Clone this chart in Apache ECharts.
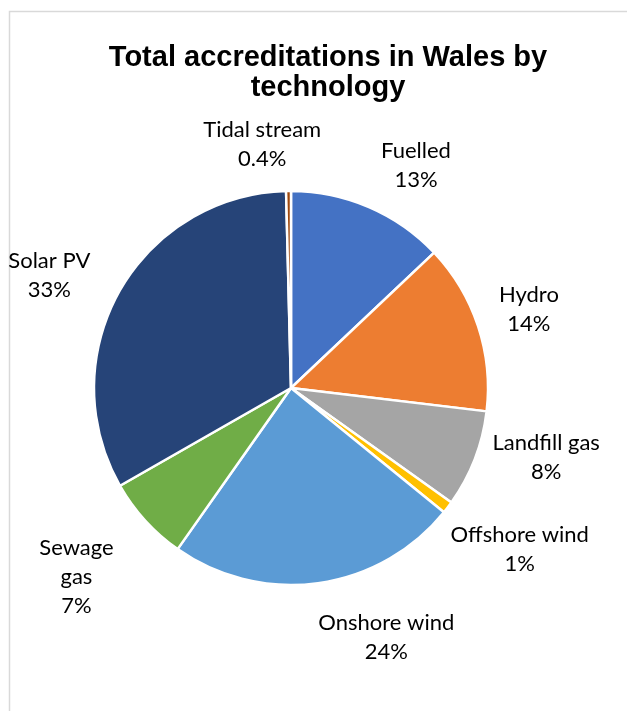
<!DOCTYPE html>
<html>
<head>
<meta charset="utf-8">
<script src="https://cdn.jsdelivr.net/npm/echarts@6/dist/echarts.min.js"></script>
<style>
  html, body { margin: 0; padding: 0; background: #fff; }
  #chart { width: 627px; height: 711px; }
</style>
</head>
<body>
<div id="chart"></div>
<script>
  // values (percent of accreditations)
  const categories = ['Fuelled', 'Hydro', 'Landfill gas', 'Offshore wind', 'Onshore wind', 'Sewage gas', 'Solar PV', 'Tidal stream']
  const shares = [13, 14, 8, 1, 24, 7, 33, 0.4]
  const colors = ['#4472C4', '#ED7D31', '#A5A5A5', '#FFC000', '#5B9BD5', '#70AD47', '#264478', '#9E480E']

  // per-label tweaks [angle deg, extra gap px] so labels sit where Excel put them
  const labelNudge = [[6, -2], [0, -2], [-6, -10], [-2, -8], [-13, 1], [1, 14], [-4.5, 2], [-6, -5]]

  const cx = 291, cy = 388, R = 197
  const total = shares.reduce((a, b) => a + b, 0)
  // mid angle of each slice, clockwise from 12 o'clock
  let acc = 0
  const midAngles = shares.map(v => {
    const m = (acc + v / 2) / total * Math.PI * 2
    acc += v
    return m
  })

  const mychart = echarts.init(document.getElementById('chart'))
  mychart.setOption({
    animation: false,
    color: colors,
    title: {
      text: 'Total accreditations in Wales by\ntechnology',
      left: 323,
      textAlign: 'center',
      top: 38,
      textStyle: {
        fontFamily: 'Liberation Sans',
        fontSize: 29,
        fontWeight: 'bold',
        color: '#000',
        lineHeight: 30
      }
    },
    graphic: [{
      type: 'rect',
      shape: { x: 9.5, y: 11.5, width: 700, height: 800 },
      style: { fill: 'none', stroke: '#d9d9d9', lineWidth: 1.5 },
      silent: true
    }],
    series: [{
      type: 'pie',
      center: [cx, cy],
      radius: R,
      startAngle: 90,
      clockwise: true,
      itemStyle: { borderColor: '#fff', borderWidth: 2.5 },
      label: {
        show: true,
        position: 'outside',
        fontFamily: 'Lato',
        fontSize: 22,
        lineHeight: 29,
        color: '#000',
        overflow: 'none',
        formatter: p => (p.name === 'Sewage gas' ? 'Sewage\ngas' : p.name) + '\n' + p.value + '%'
      },
      labelLine: { show: false },
      // label box just outside the rim, centred on the slice's mid angle
      labelLayout: p => {
        const n = labelNudge[p.dataIndex]
        const a = midAngles[p.dataIndex] + n[0] * Math.PI / 180
        const ux = Math.sin(a), uy = -Math.cos(a)
        const w = p.labelRect.width, h = p.labelRect.height
        const d = R + 18 + n[1] + Math.abs(ux) * w / 2 + Math.abs(uy) * h / 2
        return { x: cx + ux * d, y: cy + uy * d, align: 'center', verticalAlign: 'middle' }
      },
      data: categories.map((c, i) => ({ name: c, value: shares[i] }))
    }]
  })
</script>
</body>
</html>
